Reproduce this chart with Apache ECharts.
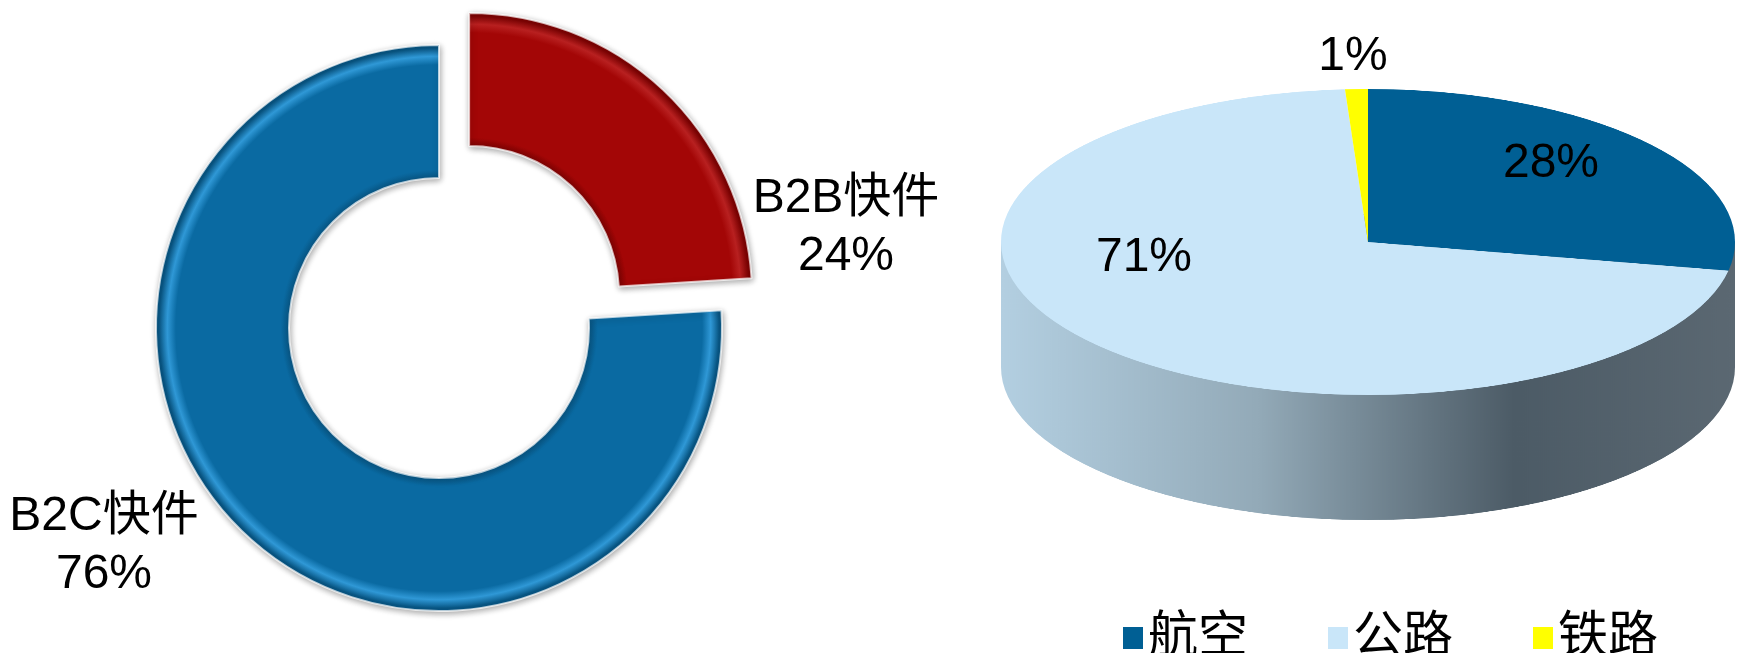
<!DOCTYPE html>
<html>
<head>
<meta charset="utf-8">
<script src="https://cdn.jsdelivr.net/npm/echarts@6/dist/echarts.min.js"></script>
<style>
  html, body { margin: 0; padding: 0; background: #ffffff; width: 1738px; height: 653px; overflow: hidden; position: relative; }
  #pieTop { position: absolute; left: 988px; top: -138px; width: 760px; height: 1100px; transform: scaleY(0.4169); transform-origin: 380px 380px; }
  #main { position: absolute; left: 0; top: 0; width: 1738px; height: 653px; }
</style>
</head>
<body>
<div id="pieTop"></div>
<div id="main"></div>
<script>
// ---- data ----
const donutCategories = ['B2B快件', 'B2C快件'];
const donutValues = [24, 76];
const modeCategories = ['航空', '公路', '铁路'];
const modeValues = [28, 71, 1];

// ---- styles ----
const FONT = '"Liberation Sans", Arial, "Noto Sans CJK SC", sans-serif';
const modeColors = ['#005f94', '#c9e6f9', '#ffff00'];
function bevel(cx, cy, r, dark, base, light) {
  return new echarts.graphic.RadialGradient(cx, cy, r, [
    { offset: 0.53, color: dark },
    { offset: 0.56, color: base },
    { offset: 0.93, color: base },
    { offset: 0.96, color: light },
    { offset: 0.99, color: dark },
    { offset: 1, color: dark }
  ], true);
}
const donutColors = [
  bevel(439, 328, 283, '#7e0303', '#a30606', '#b82020'),
  bevel(439, 328, 283, '#085684', '#0a6aa2', '#2f98d6')
];
const donutLegendColors = ['#a30606', '#0a6aa2'];

// ---- squashed 3D pie (top face + side) ----
const pieChart3d = echarts.init(document.getElementById('pieTop'), null, { renderer: 'canvas' });
const sideGrad = new echarts.graphic.LinearGradient(13, 0, 747, 0, [
  { offset: 0, color: '#b3cfe1' },
  { offset: 0.35, color: '#93aab8' },
  { offset: 0.7, color: '#4c5b66' },
  { offset: 1, color: '#5b6872' }
], true);
pieChart3d.setOption({
  animation: false,
  backgroundColor: 'transparent',
  graphic: [{
    type: 'group', z: 0, silent: true,
    children: [
      { type: 'rect', shape: { x: 13, y: 380, width: 734, height: 300 }, style: { fill: sideGrad } },
      { type: 'circle', shape: { cx: 380, cy: 680, r: 367 }, style: { fill: sideGrad } }
    ]
  }],
  series: [{
    type: 'pie', z: 5, silent: true,
    center: [380, 380], radius: [0, 367],
    startAngle: 90, clockwise: true,
    label: { show: false }, labelLine: { show: false },
    itemStyle: { borderWidth: 0 },
    data: modeCategories.map((n, i) => ({ name: n, value: modeValues[i], itemStyle: { color: modeColors[i] } }))
  }]
});

// ---- main chart ----
const chart = echarts.init(document.getElementById('main'));
// label anchor points (layout only), indexed by data order
const donutLabelPos = [[846, 228], [104, 546]];
const modeLabelPos = [[1551, 164], [1144, 258], [1353, 57]];

chart.setOption({
  animation: false,
  backgroundColor: 'transparent',
  legend: {
    data: modeCategories.map((n, i) => ({ name: n, itemStyle: { color: modeColors[i], opacity: 1 } })),
    orient: 'horizontal',
    left: 1118, top: 608,
    icon: 'rect', itemWidth: 20, itemHeight: 22, itemGap: 80,
    itemStyle: { opacity: 1 },
    textStyle: { fontSize: 50, color: '#000', fontFamily: FONT, padding: [0, 0, 0, 0] },
    selectedMode: false
  },
  series: [
    {
      type: 'pie', name: 'donut',
      center: [439, 328], radius: [150, 283],
      startAngle: 90, clockwise: true,
      selectedMode: 'single', selectedOffset: 44,
      emphasis: { disabled: true },
      itemStyle: {
        borderColor: 'rgba(255,255,255,0.7)', borderWidth: 2,
        shadowBlur: 6, shadowColor: 'rgba(0,0,0,0.35)', shadowOffsetX: 1, shadowOffsetY: 2
      },
      label: { show: false },
      labelLine: { show: false },
      data: donutCategories.map((n, i) => ({
        name: n, value: donutValues[i], selected: i === 0,
        itemStyle: { color: donutColors[i] }
      }))
    },
    {
      // transparent twin of the donut that only carries its labels
      type: 'pie', name: 'donutLabels', silent: true,
      center: [439, 328], radius: [150, 283],
      startAngle: 90, clockwise: true,
      itemStyle: { opacity: 0 },
      emphasis: { disabled: true },
      label: {
        show: true, formatter: '{b}\n{d}%', color: '#000', opacity: 1,
        fontSize: 48, lineHeight: 58, fontFamily: FONT
      },
      labelLine: { show: false },
      labelLayout: (p) => {
        const pos = donutLabelPos[p.dataIndex];
        return { x: pos[0], y: pos[1], align: 'center', verticalAlign: 'middle' };
      },
      data: donutCategories.map((n, i) => ({ name: n, value: donutValues[i], itemStyle: { color: donutLegendColors[i] } }))
    },
    {
      type: 'pie', name: 'mode', silent: true,
      center: [1368, 242], radius: [0, 367],
      startAngle: 90, clockwise: true,
      itemStyle: { opacity: 0 },
      emphasis: { disabled: true },
      label: {
        show: true, position: 'inside', formatter: '{d}%', color: '#000', opacity: 1,
        fontSize: 48, fontFamily: FONT
      },
      labelLine: { show: false },
      labelLayout: (p) => {
        const pos = modeLabelPos[p.dataIndex];
        return { x: pos[0], y: pos[1], align: 'center', verticalAlign: 'middle' };
      },
      data: modeCategories.map((n, i) => ({ name: n, value: modeValues[i], itemStyle: { color: modeColors[i] } }))
    }
  ]
});
</script>
</body>
</html>
